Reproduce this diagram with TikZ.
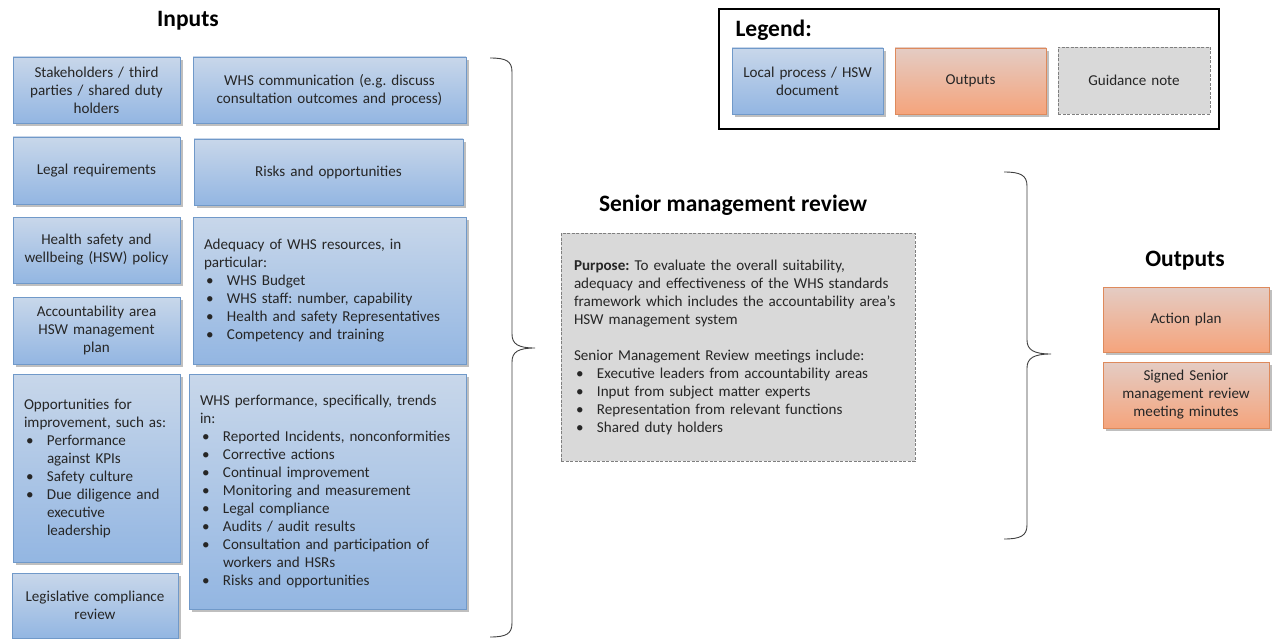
\documentclass[tikz,border=0pt]{standalone}
\usepackage{fontspec}
\setmainfont{Carlito}
\usetikzlibrary{shadows}

\definecolor{blueTop}{HTML}{C8D7EA}
\definecolor{blueMid}{HTML}{A9C6E8}
\definecolor{blueBot}{HTML}{93B6E2}
\definecolor{blueLine}{HTML}{7099C9}
\definecolor{orTop}{HTML}{E4CCC4}
\definecolor{orMid}{HTML}{F0B497}
\definecolor{orBot}{HTML}{F5A47C}
\definecolor{orLine}{HTML}{DE8A5C}
\definecolor{noteFill}{HTML}{D9D9D9}
\definecolor{noteLine}{HTML}{7F7F7F}
\definecolor{txt}{HTML}{262626}
\definecolor{braceCol}{HTML}{404040}

% bullet item and continuation indent for list lines
\newcommand\bi[1]{\makebox[23pt][l]{\hspace{2pt}\textbullet}#1}
\newcommand\ci{\hspace*{23pt}}
\frenchspacing

\begin{document}
\begin{tikzpicture}[x=1pt,y=-1pt,
  every node/.style={font=\fontsize{15.1}{18}\selectfont, text=txt},
  basebox/.style={rectangle, inner xsep=11pt, inner ysep=0pt,
    drop shadow={shadow xshift=2.5pt, shadow yshift=-3pt, opacity=0.25, fill=black}},
  bluebox/.style={basebox, draw=blueLine, line width=0.8pt,
    top color=blueTop, middle color=blueMid, bottom color=blueBot},
  orangebox/.style={basebox, draw=orLine, line width=0.8pt,
    top color=orTop, middle color=orMid, bottom color=orBot},
  notebox/.style={rectangle, inner xsep=13pt, inner ysep=0pt, fill=noteFill,
    draw=noteLine, line width=0.8pt, dash pattern=on 3pt off 1.5pt},
  title/.style={font=\fontsize{23.5}{28}\bfseries\selectfont, text=black},
  bracket/.style={draw=braceCol, line width=0.9pt}
]
\useasboundingbox (0,0) rectangle (1273,639);
\fill[white] (0,0) rectangle (1273,639);

% ---------- Inputs ----------
\node[title] (inputsT) at (188,21) {Inputs};

\node[bluebox, minimum width=167pt, minimum height=66pt, text width=145pt, align=center]
  (stake) at (96.5,90) {Stakeholders / third\\parties / shared duty\\holders};
\node[bluebox, minimum width=273pt, minimum height=66pt, text width=251pt, align=center]
  (comm) at (329.5,90) {WHS communication (e.g. discuss\\consultation outcomes and process)};
\node[bluebox, minimum width=167pt, minimum height=67pt, text width=145pt, align=center]
  (legal) at (96.5,170.5) {Legal requirements};
\node[bluebox, minimum width=269pt, minimum height=66pt, text width=247pt, align=center]
  (risks) at (328.5,172) {Risks and opportunities};
\node[bluebox, minimum width=167pt, minimum height=66pt, text width=145pt, align=center]
  (policy) at (96.5,250) {Health safety and\\wellbeing (HSW) policy};
\node[bluebox, minimum width=273pt, minimum height=147pt, text width=251pt, align=left]
  (adequacy) at (329.5,290.5) {Adequacy of WHS resources, in\\particular:\\
  \bi{WHS Budget}\\\bi{WHS staff: number, capability}\\
  \bi{Health and safety Representatives}\\\bi{Competency and training}};
\node[bluebox, minimum width=167pt, minimum height=67pt, text width=145pt, align=center]
  (plan) at (96.5,330.5) {Accountability area\\HSW management\\plan};
\node[bluebox, minimum width=167pt, minimum height=188pt, text width=145pt, align=left]
  (improve) at (96.5,468) {Opportunities for\\improvement, such as:\\
  \bi{Performance}\\\ci against KPIs\\\bi{Safety culture}\\
  \bi{Due diligence and}\\\ci executive\\\ci leadership};
\node[bluebox, minimum width=277pt, minimum height=235pt, text width=255pt, align=left]
  (perf) at (327.5,491.5) {WHS performance, specifically, trends\\in:\\
  \bi{Reported Incidents, nonconformities}\\\bi{Corrective actions}\\
  \bi{Continual improvement}\\\bi{Monitoring and measurement}\\
  \bi{Legal compliance}\\\bi{Audits / audit results}\\
  \bi{Consultation and participation of}\\\ci workers and HSRs\\
  \bi{Risks and opportunities}};
\node[bluebox, minimum width=166pt, minimum height=65pt, text width=144pt, align=center]
  (legis) at (95,605.5) {Legislative compliance\\review};

% ---------- brace gathering the inputs ----------
\coordinate (inTop) at (490,58);
\coordinate (inTip) at (535,348);
\coordinate (inBot) at (490,637);
\draw[bracket] (inTop) .. controls (506,58) and (512,61) .. (512,72)
  -- (512,334) .. controls (512,344) and (518,348) .. (inTip)
  .. controls (518,348) and (512,352) .. (512,362)
  -- (512,623) .. controls (512,634) and (506,637) .. (inBot);

% ---------- Senior management review ----------
\node[title] (reviewT) at (733,205) {Senior management review};
\node[notebox, minimum width=354pt, minimum height=228pt, text width=328pt, align=left]
  (review) at (738,347) {\textbf{Purpose:} To evaluate the overall suitability,\\
  adequacy and effectiveness of the WHS standards\\
  framework which includes the accountability area’s\\
  HSW management system\\[18pt]
  Senior Management Review meetings include:\\
  \bi{Executive leaders from accountability areas}\\
  \bi{Input from subject matter experts}\\
  \bi{Representation from relevant functions}\\
  \bi{Shared duty holders}};

% ---------- brace gathering the review ----------
\coordinate (rvTop) at (1004,172);
\coordinate (rvTip) at (1051,354);
\coordinate (rvBot) at (1004,539);
\draw[bracket] (rvTop) .. controls (1020,172) and (1027,175) .. (1027,186)
  -- (1027,340) .. controls (1027,350) and (1034,354) .. (rvTip)
  .. controls (1034,354) and (1027,358) .. (1027,368)
  -- (1027,525) .. controls (1027,536) and (1020,539) .. (rvBot);

% ---------- Outputs ----------
\node[title] (outputsT) at (1185,261) {Outputs};
\node[orangebox, minimum width=166pt, minimum height=65pt, text width=144pt, align=center]
  (action) at (1186,319.5) {Action plan};
\node[orangebox, minimum width=166pt, minimum height=66pt, text width=144pt, align=center]
  (minutes) at (1186,395) {Signed Senior\\management review\\meeting minutes};

% ---------- Legend ----------
\node[draw=black, line width=1.3pt, minimum width=500pt, minimum height=120pt, inner sep=0pt]
  (legend) at (969,69) {};
\node[title, anchor=west] (legendT) at (732,30) {Legend:};
\node[bluebox, minimum width=151pt, minimum height=66pt, text width=129pt, align=center]
  (keyBlue) at (807.5,81) {Local process / HSW\\document};
\node[orangebox, minimum width=151pt, minimum height=66pt, text width=129pt, align=center]
  (keyOrange) at (970.5,81) {Outputs};
\node[notebox, minimum width=152pt, minimum height=67pt, text width=126pt, align=center]
  (keyNote) at (1134,80.5) {Guidance note};
\end{tikzpicture}
\end{document}
